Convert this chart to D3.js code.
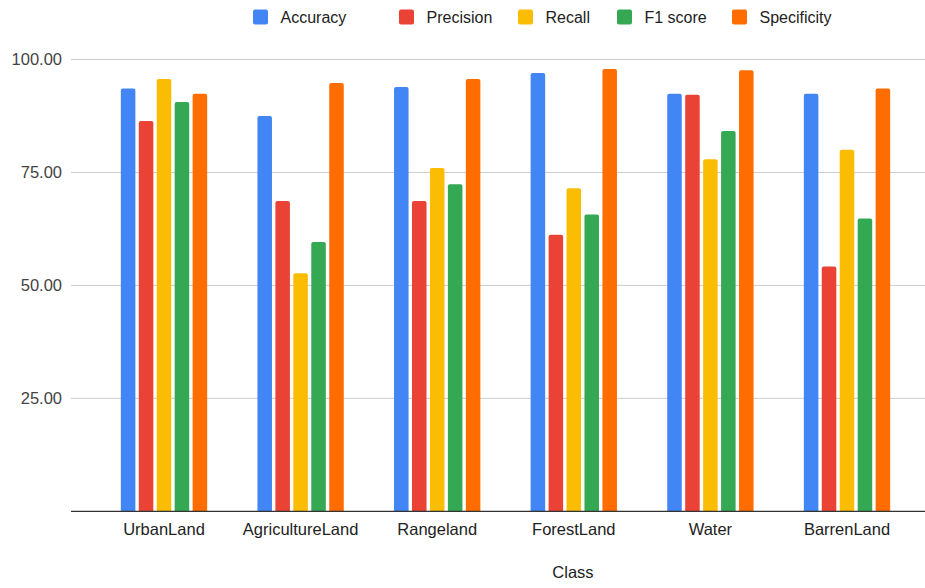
<!DOCTYPE html>
<html><head><meta charset="utf-8">
<script src="https://cdn.jsdelivr.net/npm/d3@7"></script>
<style>body{margin:0;background:#fff}svg{display:block}text{font-family:"Liberation Sans",Arial,sans-serif}</style>
</head><body><svg id="c" width="925" height="588"></svg>
<script>
const categories = ["UrbanLand","AgricultureLand","Rangeland","ForestLand","Water","BarrenLand"];
const seriesNames = ["Accuracy","Precision","Recall","F1 score","Specificity"];
const seriesColors = ["#4285F4","#EA4335","#FBBC04","#34A853","#FF6D01"];
const accuracy    = [93.6, 87.5, 93.9, 97.0, 92.4, 92.4];
const precision   = [86.4, 68.7, 68.7, 61.2, 92.2, 54.2];
const recall      = [95.7, 52.7, 76.0, 71.5, 77.9, 80.0];
const f1score     = [90.6, 59.6, 72.4, 65.7, 84.2, 64.8];
const specificity = [92.4, 94.8, 95.7, 97.9, 97.6, 93.6];
const yTicks = [25, 50, 75, 100];
const legendX = [253, 399, 518, 617, 732];

const series = [accuracy, precision, recall, f1score, specificity];
const svg = d3.select("#c");
const y = d3.scaleLinear().domain([0, 100]).range([511.3, 59.5]);
const x0 = d3.scaleBand().domain(categories).range([95.7, 915.3]).paddingInner(0.368).paddingOuter(0.184);
const x1 = d3.scaleBand().domain(seriesNames).range([0, x0.bandwidth()]).paddingInner(0.19).paddingOuter(0);

// gridlines
svg.append("g").selectAll("line").data(yTicks).join("line")
  .attr("x1", 71).attr("x2", 925).attr("y1", d => y(d)).attr("y2", d => y(d))
  .attr("stroke", "#cccccc").attr("stroke-width", 1);

// y tick labels
svg.append("g").selectAll("text").data(yTicks).join("text")
  .attr("x", 62).attr("y", d => y(d)).attr("dy", "0.36em").attr("text-anchor", "end")
  .attr("font-size", 16.5).attr("fill", "#444").text(d => d3.format(".2f")(d));

// bars
const r = 2;
function barPath(x, yTop, w, yBase) {
  return `M${x},${yBase}V${yTop + r}Q${x},${yTop} ${x + r},${yTop}H${x + w - r}Q${x + w},${yTop} ${x + w},${yTop + r}V${yBase}Z`;
}
const g = svg.append("g");
categories.forEach((cat, i) => {
  seriesNames.forEach((s, j) => {
    const v = series[j][i];
    g.append("path")
      .attr("d", barPath(x0(cat) + x1(s), y(v), x1.bandwidth(), y(0)))
      .attr("fill", seriesColors[j]);
  });
});

// baseline
svg.append("line").attr("x1", 71).attr("x2", 925).attr("y1", y(0)).attr("y2", y(0))
  .attr("stroke", "#333").attr("stroke-width", 1.3);

// x labels
const xAxis = d3.axisBottom(x0).tickSize(0).tickPadding(0);
const ax = svg.append("g").attr("transform", `translate(0,${y(0)})`).call(xAxis);
ax.select(".domain").remove();
ax.selectAll("text").attr("font-size", 16.5).attr("fill", "#222")
  .attr("font-family", '"Liberation Sans",Arial,sans-serif').attr("y", 24).attr("dy", 0);

// axis title
svg.append("text").attr("x", 573).attr("y", 578).attr("text-anchor", "middle")
  .attr("font-size", 16.5).attr("fill", "#222").text("Class");

// legend
const lg = svg.append("g");
seriesNames.forEach((s, j) => {
  lg.append("rect").attr("x", legendX[j]).attr("y", 9.5).attr("width", 15).attr("height", 15)
    .attr("rx", 2).attr("fill", seriesColors[j]);
  lg.append("text").attr("x", legendX[j] + 27.5).attr("y", 17).attr("dy", "0.36em")
    .attr("font-size", 16).attr("fill", "#222").text(s);
});
</script></body></html>
